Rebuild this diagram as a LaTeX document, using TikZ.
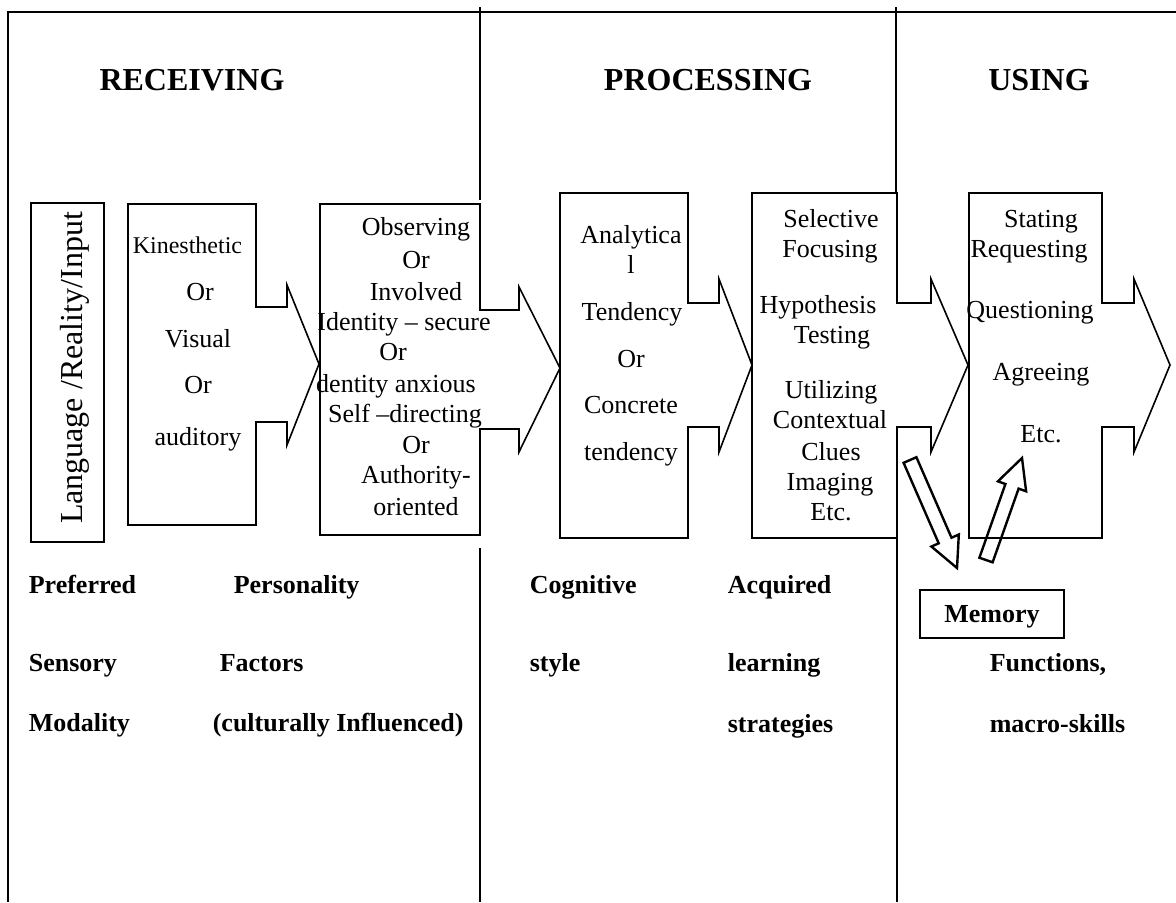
\documentclass[tikz,border=0pt]{standalone}
\usepackage{fontspec}
\setmainfont{Liberation Serif}
\usepackage{tikz}

\begin{document}
\begin{tikzpicture}[x=0.5pt,y=-0.5pt,line width=0.8pt,
  txt/.style={font=\fontsize{13}{15}\selectfont,anchor=base},
  ttl/.style={font=\bfseries\fontsize{16}{18}\selectfont,anchor=base},
  lbl/.style={font=\bfseries\fontsize{13}{15}\selectfont,anchor=base west}]
\tikzstyle{every node}+=[inner sep=0pt]
\useasboundingbox (0,0) rectangle (1176,902);
% frame and dividers
\draw [line width=1pt] (8,902) -- (8,12) -- (1176,12);
\draw (480,7) -- (480,200);
\draw (480,548) -- (480,902);
\draw (896,7) -- (896,193);
\draw (897,427) -- (897,902);
% headings
\node [ttl] (recv) at (192,90) {RECEIVING};
\node [ttl] (proc) at (708,90) {PROCESSING};
\node [ttl] (use) at (1039,90) {USING};
% input box
\draw (31,203) rectangle (104,542);
\node [rotate=90,font=\fontsize{16}{18}\selectfont] (lang) at (75,368) {Language /Reality/Input};
% sensory modality
\draw (128,204) -- (256,204) -- (256,307) -- (287,307) -- (287,285) -- (319,364) -- (287,445) -- (287,422) -- (256,422) -- (256,525) -- (128,525) -- cycle;
\node [txt,anchor=base west,font=\fontsize{12}{14}\selectfont] (kin1) at (132,253) {Kinesthetic};
\node [txt] (kin2) at (200,300) {Or};
\node [txt] (kin3) at (198,347) {Visual};
\node [txt] (kin4) at (198,393) {Or};
\node [txt] (kin5) at (198,445) {auditory};
% personality
\draw (320,204) -- (480,204) -- (480,310) -- (519,310) -- (519,287) -- (560,368) -- (519,452) -- (519,429) -- (480,429) -- (480,535) -- (320,535) -- cycle;
\node [txt] (obs1) at (416,235) {Observing};
\node [txt] (obs2) at (416,268) {Or};
\node [txt] (obs3) at (416,300) {Involved};
\node [txt] (obs4) at (404,330) {Identity -- secure};
\node [txt] (obs5) at (393,360) {Or};
\node [txt] (obs6) at (396,392) {dentity anxious};
\node [txt] (obs7) at (405,422) {Self --directing};
\node [txt] (obs8) at (416,453) {Or};
\node [txt] (obs9) at (416,483) {Authority-};
\node [txt] (obs10) at (416,515) {oriented};
% cognitive style
\draw (560,193) -- (688,193) -- (688,303) -- (719,303) -- (719,279) -- (752,365) -- (719,452) -- (719,427) -- (688,427) -- (688,538) -- (560,538) -- cycle;
\node [txt] (cog1) at (631,243) {Analytica};
\node [txt] (cog2) at (631,273) {l};
\node [txt] (cog3) at (632,320) {Tendency};
\node [txt] (cog4) at (631,367) {Or};
\node [txt] (cog5) at (631,413) {Concrete};
\node [txt] (cog6) at (631,460) {tendency};
% strategies
\draw (752,193) -- (897,193) -- (897,303) -- (931,303) -- (931,279) -- (968,365) -- (931,452) -- (931,427) -- (897,427) -- (897,538) -- (752,538) -- cycle;
\node [txt] (str1) at (831,227) {Selective};
\node [txt] (str2) at (830,257) {Focusing};
\node [txt] (str3) at (818,313) {Hypothesis};
\node [txt] (str4) at (832,343) {Testing};
\node [txt] (str5) at (831,398) {Utilizing};
\node [txt] (str6) at (830,428) {Contextual};
\node [txt] (str7) at (831,460) {Clues};
\node [txt] (str8) at (830,490) {Imaging};
\node [txt] (str9) at (831,520) {Etc.};
% functions
\draw (969,193) -- (1102,193) -- (1102,303) -- (1134,303) -- (1134,279) -- (1170,365) -- (1134,452) -- (1134,427) -- (1102,427) -- (1102,538) -- (969,538) -- cycle;
\node [txt] (fun1) at (1041,227) {Stating};
\node [txt] (fun2) at (1029,257) {Requesting};
\node [txt] (fun3) at (1030,318) {Questioning};
\node [txt] (fun4) at (1041,380) {Agreeing};
\node [txt] (fun5) at (1041,442) {Etc.};
% memory and its arrows
\node [draw,font=\bfseries\fontsize{13}{15}\selectfont,minimum width=72pt,minimum height=24pt,text depth=0pt] (mem) at (992,614) {Memory};
\draw [line width=1.2pt] (903.6,462.8) -- (938.7,543.3) -- (931.4,546.5) -- (957,568) -- (958.8,534.5) -- (951.5,537.7) -- (916.4,457.2) -- cycle;
\draw [line width=1.2pt] (992.6,562.3) -- (1018.6,488.6) -- (1026.1,491.3) -- (1022,458) -- (997.9,481.3) -- (1005.4,484) -- (979.4,557.7) -- cycle;
% labels below
\node [lbl] (pref1) at (28,593) {Preferred};
\node [lbl] (pref2) at (28,671) {Sensory};
\node [lbl] (pref3) at (28,731) {Modality};
\node [lbl] (pers1) at (233,593) {Personality};
\node [lbl] (pers2) at (219,671) {Factors};
\node [lbl] (pers3) at (212,731) {(culturally Influenced)};
\node [lbl] (cst1) at (529,593) {Cognitive};
\node [lbl] (cst2) at (529,671) {style};
\node [lbl] (acq1) at (727,593) {Acquired};
\node [lbl] (acq2) at (727,671) {learning};
\node [lbl] (acq3) at (727,732) {strategies};
\node [lbl] (fns1) at (989,671) {Functions,};
\node [lbl] (fns2) at (989,732) {macro-skills};
\end{tikzpicture}
\end{document}
